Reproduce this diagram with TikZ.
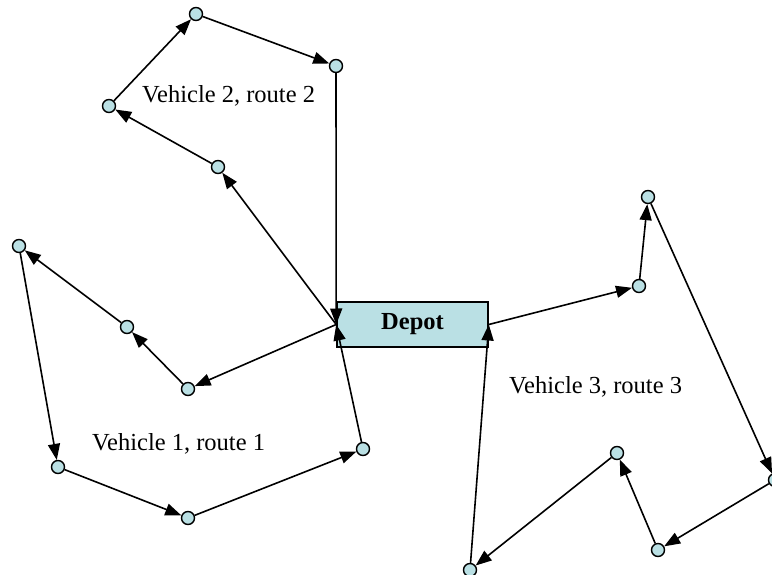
\documentclass[tikz,border=0pt]{standalone}
\usepackage{fontspec}
\setmainfont{Liberation Serif}
\usetikzlibrary{arrows.meta}
\definecolor{stopfill}{RGB}{186,224,228}
\tikzset{
  stop/.style={circle,draw=black,fill=stopfill,line width=1.4pt,minimum size=13pt,inner sep=0pt},
  depotbox/.style={rectangle,draw=black,fill=stopfill,line width=1.6pt,minimum width=151pt,minimum height=45pt,inner sep=0pt,font=\fontsize{24.5}{28}\selectfont\bfseries},
  routelabel/.style={anchor=base west,inner sep=0pt,font=\fontsize{24.5}{28}\selectfont},
  leg/.style={line width=1.6pt,-{Triangle[length=16pt,width=12pt]}}
}
\begin{document}
\begin{tikzpicture}[x=1pt,y=-1pt]
\useasboundingbox (0,0) rectangle (772,575);
% depot
\node[depotbox] (depot) at (412.5,324.5) {Depot};
% route 1
\node[stop] (a1) at (188,389) {};
\node[stop] (a2) at (127,327) {};
\node[stop] (a3) at (19,246) {};
\node[stop] (a4) at (58,467) {};
\node[stop] (a5) at (188,518) {};
\node[stop] (a6) at (363,449) {};
% route 2
\node[stop] (b1) at (218,167) {};
\node[stop] (b2) at (109,106) {};
\node[stop] (b3) at (196,14) {};
\node[stop] (b4) at (336,66) {};
% route 3
\node[stop] (c1) at (639,286) {};
\node[stop] (c2) at (648,197) {};
\node[stop] (c3) at (775,480) {};
\node[stop] (c4) at (658,550) {};
\node[stop] (c5) at (617,453) {};
\node[stop] (c6) at (470,570) {};
% labels
\node[routelabel] (l2) at (142,103) {Vehicle 2, route 2};
\node[routelabel] (l1) at (92,450) {Vehicle 1, route 1};
\node[routelabel] (l3) at (509,393) {Vehicle 3, route 3};
% route 1 legs
\draw[leg] (depot.west) -- (a1);
\draw[leg] (a1) -- (a2);
\draw[leg] (a2) -- (a3);
\draw[leg] (a3) -- (a4);
\draw[leg] (a4) -- (a5);
\draw[leg] (a5) -- (a6);
\draw[leg] (a6) -- (depot.west);
% route 2 legs
\draw[leg] (depot.west) -- (b1);
\draw[leg] (b1) -- (b2);
\draw[leg] (b2) -- (b3);
\draw[leg] (b3) -- (b4);
\draw[leg] (b4) -- (depot.west);
% route 3 legs
\draw[leg] (depot.east) -- (c1);
\draw[leg] (c1) -- (c2);
\draw[leg] (c2) -- (c3);
\draw[leg] (c3) -- (c4);
\draw[leg] (c4) -- (c5);
\draw[leg] (c5) -- (c6);
\draw[leg] (c6) -- (depot.east);
\end{tikzpicture}
\end{document}
